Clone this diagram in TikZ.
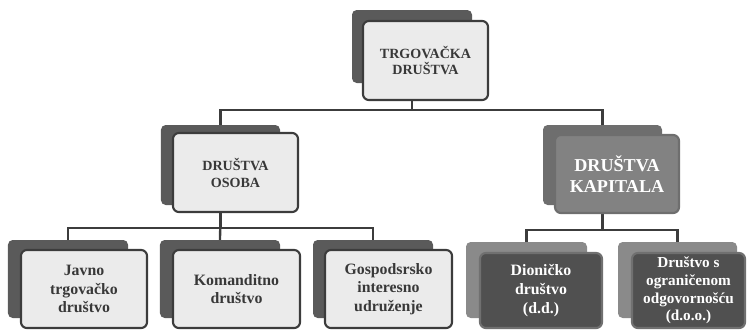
\documentclass[tikz,border=0pt]{standalone}
\usepackage{fontspec}
\setmainfont{Liberation Serif}
\usetikzlibrary{backgrounds}
\definecolor{backdark}{HTML}{5A5A5A}
\definecolor{frontlight}{HTML}{EBEBEB}
\definecolor{edgedark}{HTML}{3C3C3C}
\definecolor{textgray}{HTML}{383838}
\definecolor{kapback}{HTML}{6E6E6E}
\definecolor{kapfront}{HTML}{828282}
\definecolor{ddback}{HTML}{8A8A8A}
\definecolor{ddfront}{HTML}{505050}
\definecolor{ddedge}{HTML}{707070}
\begin{document}
\begin{tikzpicture}[x=0.03cm,y=-0.03cm,
  back/.style={rectangle,rounded corners=4pt,fill=backdark,inner sep=0pt},
  front/.style={rectangle,rounded corners=5pt,draw=edgedark,line width=1.8pt,fill=frontlight,
    text=textgray,align=center,inner sep=0pt,font=\bfseries\fontsize{13.5}{16}\selectfont},
  capsfont/.style={font=\bfseries\fontsize{12}{14.5}\selectfont},
  kapback/.style={back,fill=kapback},
  kapfront/.style={front,fill=kapfront,draw=kapback,text=white,font=\bfseries\fontsize{15.5}{17.5}\selectfont},
  ddback/.style={back,fill=ddback},
  ddfront/.style={front,fill=ddfront,draw=ddedge,text=white,font=\bfseries\fontsize{13.5}{16}\selectfont},
  conn/.style={draw=edgedark,line width=2pt}]
\useasboundingbox (0,0) rectangle (750,331);

% top level
\node[back,minimum width=3.6cm,minimum height=2.19cm] (top-b) at (412,46.5) {};
\node[front,capsfont,minimum width=3.75cm,minimum height=2.37cm] (top) at (425.5,60.5) {TRGOVAČKA\\DRUŠTVA};

% second level
\node[back,minimum width=3.57cm,minimum height=2.4cm] (osobe-b) at (220.5,165) {};
\node[front,capsfont,minimum width=3.75cm,minimum height=2.37cm] (osobe) at (235.5,172.5) {DRUŠTVA\\OSOBA};
\node[kapback,minimum width=3.57cm,minimum height=2.4cm] (kapital-b) at (602.5,165) {};
\node[kapfront,minimum width=3.72cm,minimum height=2.34cm] (kapital) at (617,174) {DRUŠTVA\\KAPITALA};

% third level
\node[back,minimum width=3.6cm,minimum height=2.34cm] (jtd-b) at (68,279) {};
\node[front,minimum width=3.78cm,minimum height=2.34cm] (jtd) at (84,289) {Javno\\trgovačko\\društvo};
\node[back,minimum width=3.6cm,minimum height=2.34cm] (kd-b) at (220,279) {};
\node[front,minimum width=3.81cm,minimum height=2.34cm] (kd) at (236.5,289) {Komanditno\\društvo};
\node[back,minimum width=3.6cm,minimum height=2.34cm] (giu-b) at (373,279) {};
\node[front,minimum width=3.81cm,minimum height=2.34cm] (giu) at (388.5,289) {Gospodsrsko\\interesno\\udruženje};
\node[ddback,minimum width=3.63cm,minimum height=2.28cm] (dd-b) at (526.5,280) {};
\node[ddfront,minimum width=3.66cm,minimum height=2.25cm] (dd) at (541,290.5) {Dioničko\\društvo\\(d.d.)};
\node[ddback,minimum width=3.57cm,minimum height=2.28cm] (doo-b) at (677.5,280) {};
\node[ddfront,minimum width=3.39cm,minimum height=2.25cm,font=\bfseries\fontsize{13}{15}\selectfont] (doo) at (688.5,290.5) {Društvo s\\ograničenom\\odgovornošću\\(d.o.o.)};

% connectors
\begin{scope}[on background layer]
\draw[conn] (top-b.south |- top.south) -- ++(0,9) -| (osobe-b.north);
\draw[conn] (top-b.south |- top.south) -- ++(0,9) -| (kapital-b.north);
\draw[conn] (osobe-b.south |- osobe.south) -- ++(0,15) -| (jtd-b.north);
\draw[conn] (osobe-b.south |- osobe.south) -- (kd-b.north);
\draw[conn] (osobe-b.south |- osobe.south) -- ++(0,15) -| (giu-b.north);
\draw[conn] (kapital-b.south |- kapital.south) -- ++(0,16) -| (dd-b.north);
\draw[conn] (kapital-b.south |- kapital.south) -- ++(0,16) -| (doo-b.north);
\end{scope}
\end{tikzpicture}
\end{document}
